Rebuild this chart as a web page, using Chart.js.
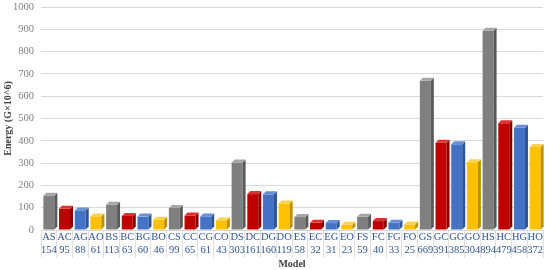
<!DOCTYPE html>
<html>
<head>
<meta charset="utf-8">
<script src="https://cdn.jsdelivr.net/npm/chart.js@4"></script>
<style>
  html, body { margin: 0; padding: 0; background: #fff; }
  #wrap { width: 550px; height: 270px; }
</style>
</head>
<body>
<div id="wrap"><canvas id="grafico" width="550" height="270"></canvas></div>
<script>
const modelos = ['AS','AC','AG','AO','BS','BC','BG','BO','CS','CC','CG','CO','DS','DC','DG','DO',
                 'ES','EC','EG','EO','FS','FC','FG','FO','GS','GC','GG','GO','HS','HC','HG','HO'];
const energia = [154, 95, 88, 61, 113, 63, 60, 46, 99, 65, 61, 43, 303, 161, 160, 119,
                 58, 32, 31, 23, 59, 40, 33, 25, 669, 391, 385, 304, 894, 479, 458, 372];
const yTicks = [0, 100, 200, 300, 400, 500, 600, 700, 800, 900, 1000];

// cor por sufixo do modelo
const coresFrente = { S: '#7F7F7F', C: '#C00000', G: '#4472C4', O: '#FFC000' };
const coresLado = { S: '#595959', C: '#8C0000', G: '#2F5597', O: '#BF9000' };
const coresTopo = { S: '#A6A6A6', C: '#E03030', G: '#6A8FD6', O: '#FFD24D' };

const sufixo = m => m.charAt(1);
const corFrente = modelos.map(m => coresFrente[sufixo(m)]);

// efeito 3D simples: lado e topo de cada barra
const barras3d = {
    id: 'barras3d',
    afterDatasetsDraw(chart) {
        const ctx = chart.ctx;
        const d = 3;
        chart.getDatasetMeta(0).data.forEach((bar, i) => {
            const s = sufixo(modelos[i]);
            const w = bar.width / 2;
            const x = bar.x, y = bar.y, base = bar.base;
            ctx.save();
            ctx.fillStyle = coresLado[s];
            ctx.beginPath();
            ctx.moveTo(x + w, y);
            ctx.lineTo(x + w + d, y - d);
            ctx.lineTo(x + w + d, base - d);
            ctx.lineTo(x + w, base);
            ctx.closePath();
            ctx.fill();
            ctx.fillStyle = coresTopo[s];
            ctx.beginPath();
            ctx.moveTo(x - w, y);
            ctx.lineTo(x - w + d, y - d);
            ctx.lineTo(x + w + d, y - d);
            ctx.lineTo(x + w, y);
            ctx.closePath();
            ctx.fill();
            ctx.restore();
        });
    }
};

new Chart(document.getElementById('grafico').getContext('2d'), {
    type: 'bar',
    data: {
        labels: modelos.map((m, i) => [m, String(energia[i])]),
        datasets: [{
            label: 'Energy',
            data: energia,
            backgroundColor: corFrente,
            categoryPercentage: 1,
            barPercentage: 0.7
        }]
    },
    plugins: [barras3d],
    options: {
        responsive: false,
        animation: false,
        layout: { padding: { top: 7, right: 7, left: 2, bottom: 0 } },
        plugins: {
            legend: { display: false },
            tooltip: { enabled: false }
        },
        scales: {
            y: {
                min: 0,
                max: 1000,
                afterBuildTicks: s => { s.ticks = yTicks.map(v => ({ value: v })); },
                afterFit: s => { s.width = 39; s.paddingTop = 0; },
                ticks: {
                    color: '#7F7F7F',
                    font: { family: 'Liberation Serif', size: 10.5 },
                    padding: 7,
                    callback: v => String(v)
                },
                grid: { color: '#D9D9D9', drawTicks: false },
                border: { display: false },
                title: {
                    display: true,
                    text: 'Energy (G×10^6)',
                    color: '#404040',
                    font: { family: 'Liberation Serif', size: 10, weight: 'bold' },
                    padding: { top: 0, bottom: 0 }
                }
            },
            x: {
                offset: true,
                afterFit: s => { s.height = 40; },
                ticks: {
                    color: '#2F5597',
                    font: { family: 'Liberation Serif', size: 10.5 },
                    maxRotation: 0,
                    autoSkip: false,
                    padding: -27
                },
                grid: {
                    offset: true,
                    drawOnChartArea: false,
                    tickLength: 28,
                    color: '#E0E0E0'
                },
                border: { color: '#D9D9D9' },
                title: {
                    display: true,
                    text: 'Model',
                    color: '#404040',
                    font: { family: 'Liberation Serif', size: 10, weight: 'bold' },
                    padding: { top: 0, bottom: 0 }
                }
            }
        }
    }
});
</script>
</body>
</html>
